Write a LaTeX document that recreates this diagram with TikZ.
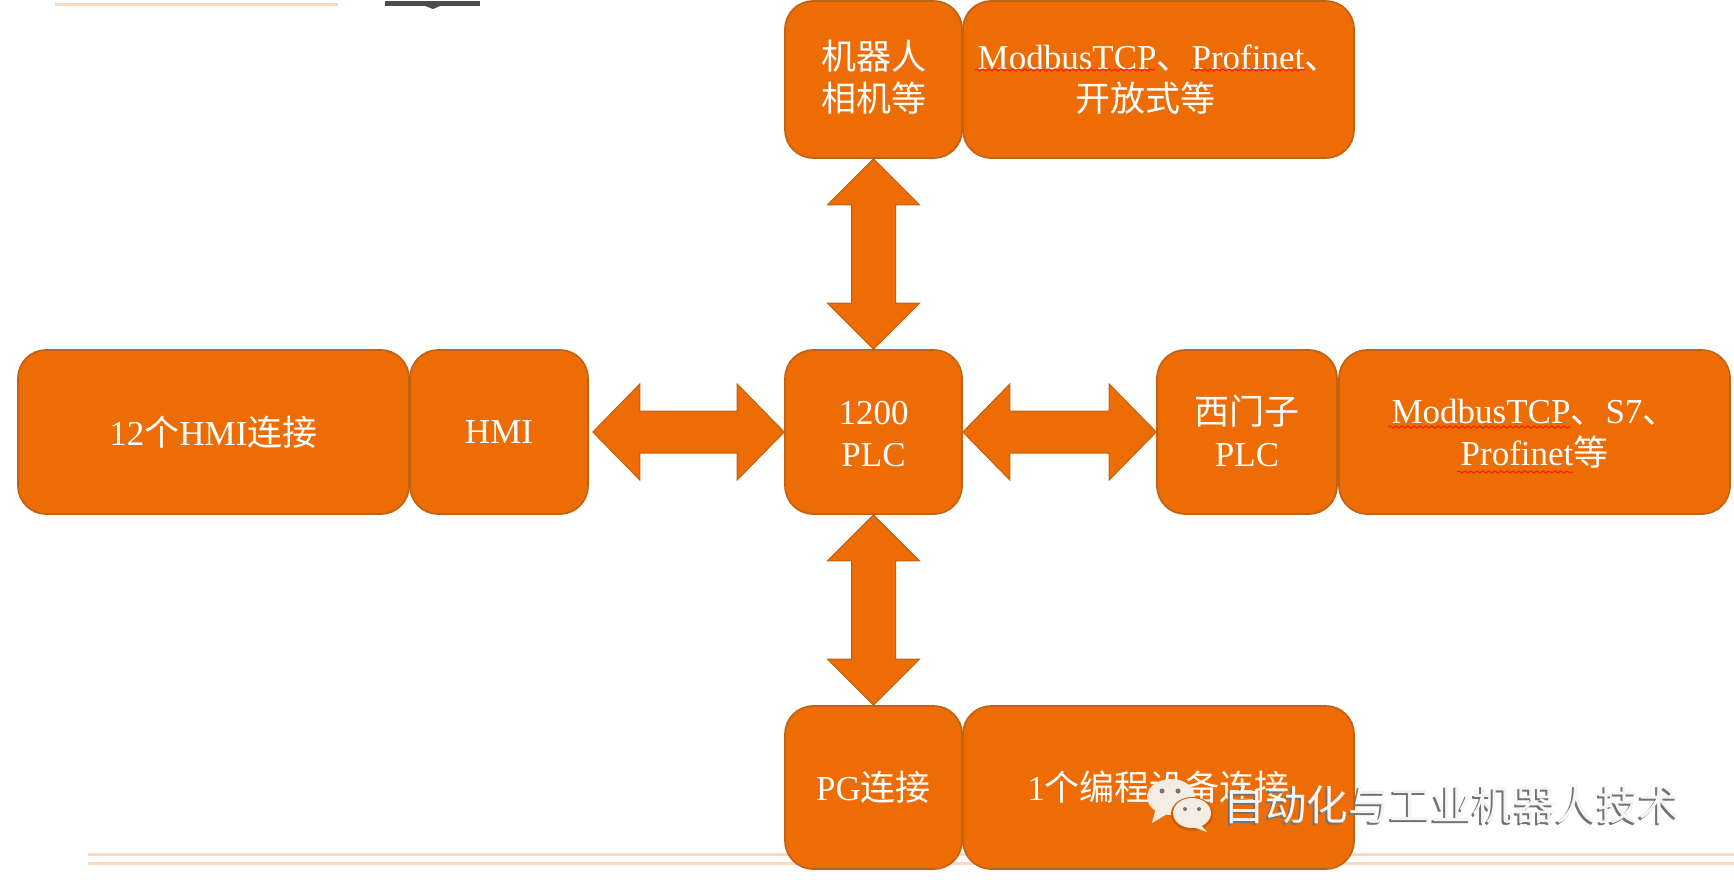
\documentclass[tikz,border=0pt]{standalone}
\usepackage{fontspec}
\usetikzlibrary{calc,decorations.pathmorphing}
\setmainfont{Liberation Serif}
\newfontfamily\cjk{Noto Sans CJK SC}
\definecolor{boxfill}{HTML}{EE6C04}
\definecolor{boxline}{HTML}{BE6213}
\definecolor{peach}{HTML}{FBD9C0}
\definecolor{bubble}{HTML}{F5ECE4}
\tikzset{
  orangebox/.style={draw=boxline,line width=1.6pt,fill=boxfill,rounded corners=28pt,inner sep=0pt,text=white,align=center,font=\fontsize{35}{42}\selectfont},
  blockarrow/.style={draw=boxline,line width=1pt,fill=boxfill},
  peachrule/.style={draw=peach,line width=3pt},
  squiggle/.style={draw=red!80!orange,line width=1pt,decorate,decoration={snake,amplitude=1.1pt,segment length=6pt}},
  darkbar/.style={fill=black!70,draw=none},
  wmark/.style={inner sep=0pt,font=\fontsize{41.5}{41.5}\selectfont\cjk}
}
\newcommand{\boxat}[6]{\node[orangebox,minimum width=#4pt,minimum height=#5pt] (#1) at (#2,#3) {#6};}
\newcommand{\twolines}[3]{\raisebox{#1}[0pt][0pt]{\begin{tabular}{@{}c@{}}#2\\#3\end{tabular}}}
\newcommand{\varrowbetween}[2]{%
  \draw[blockarrow] (#1) -- ++(46,46) -- ++(-24,0) -- ($(#2)+(22,-46)$) -- ++(24,0) -- (#2)
    -- ++(-46,-46) -- ++(24,0) -- ($(#1)+(-22,46)$) -- ++(-24,0) -- cycle;}
\newcommand{\harrowbetween}[2]{%
  \draw[blockarrow] (#1) -- ++(47,-48) -- ++(0,27) -- ($(#2)+(-47,-21)$) -- ++(0,-27) -- (#2)
    -- ++(-47,48) -- ++(0,-27) -- ($(#1)+(47,21)$) -- ++(0,27) -- cycle;}
\begin{document}
\begin{tikzpicture}[x=1pt,y=-1pt]
\useasboundingbox[fill=white] (0,0) rectangle (1734,880);
% slide remnants
\coordinate (ra) at (55,5); \coordinate (rb) at (338,5);
\draw[peachrule] (ra) -- (rb);
\coordinate (ca) at (88,854); \coordinate (cb) at (1734,854);
\coordinate (da) at (88,863); \coordinate (db) at (1734,863);
\draw[peachrule] (ca) -- (cb);
\draw[peachrule] (da) -- (db);
\fill[darkbar] (385,1) rectangle (480,6);
\fill[darkbar] (425,6) -- (440,6) -- (433,9) -- cycle;
% boxes
\boxat{robot}{873.5}{79.5}{177}{157}{\twolines{-8.5pt}{{\cjk 机器人}}{{\cjk 相机等}}}
\boxat{robotproto}{1158.5}{79.5}{391}{157}{\twolines{-8.5pt}{ModbusTCP{\cjk 、}Profinet{\cjk 、}}{{\cjk 开放式等}\kern26pt}}
\boxat{hmicount}{213.5}{432}{391}{164}{12{\cjk 个}HMI{\cjk 连接}}
\boxat{hmi}{499}{432}{178}{164}{HMI}
\boxat{plc}{873.5}{432}{177}{164}{\twolines{-11pt}{1200}{PLC}}
\boxat{siemens}{1247}{432}{180}{164}{\twolines{-11pt}{{\cjk 西门子}}{PLC}}
\boxat{siemensproto}{1534.5}{432}{391}{164}{\twolines{-10pt}{ModbusTCP{\cjk 、}S7{\cjk 、}}{Profinet{\cjk 等}}}
\boxat{pg}{873.5}{787.5}{177}{163}{PG{\cjk 连接}}
\boxat{pgcount}{1158.5}{787.5}{391}{163}{1{\cjk 个编程设备连接}}
% double block arrows
\varrowbetween{robot.south}{plc.north}
\varrowbetween{plc.south}{pg.north}
\coordinate (hmitip) at ($(hmi.east)+(4,0)$);
\harrowbetween{hmitip}{plc.west}
\harrowbetween{plc.east}{siemens.west}
% spell-check squiggles
\coordinate (s1a) at (975,70); \coordinate (s1b) at (1155,70);
\coordinate (s2a) at (1191,70); \coordinate (s2b) at (1305,70);
\coordinate (s3a) at (1388,427); \coordinate (s3b) at (1570,427);
\coordinate (s4a) at (1457,472); \coordinate (s4b) at (1574,472);
\draw[squiggle] (s1a) -- (s1b);
\draw[squiggle] (s2a) -- (s2b);
\draw[squiggle] (s3a) -- (s3b);
\draw[squiggle] (s4a) -- (s4b);
% watermark
\fill[bubble] (1171,797) ellipse [x radius=24,y radius=18];
\fill[bubble] (1155,811) -- (1152,823) -- (1167,814) -- cycle;
\fill[boxfill!85!black] (1192,814) ellipse [x radius=21,y radius=17];
\fill[bubble] (1192,813) ellipse [x radius=19,y radius=15];
\fill[bubble] (1200,824) -- (1207,832) -- (1190,826) -- cycle;
\foreach \ex/\ey/\er in {1162/791/2.5,1178/791/2.5,1185/809/2,1199/809/2}
  \fill[black!55] (\ex,\ey) circle (\er);
\node[wmark,text=black!55] (wmshadow) at (1450,807) {自动化与工业机器人技术};
\node[wmark,text=white!96!black] (wm) at (1452,805) {自动化与工业机器人技术};
\end{tikzpicture}
\end{document}
